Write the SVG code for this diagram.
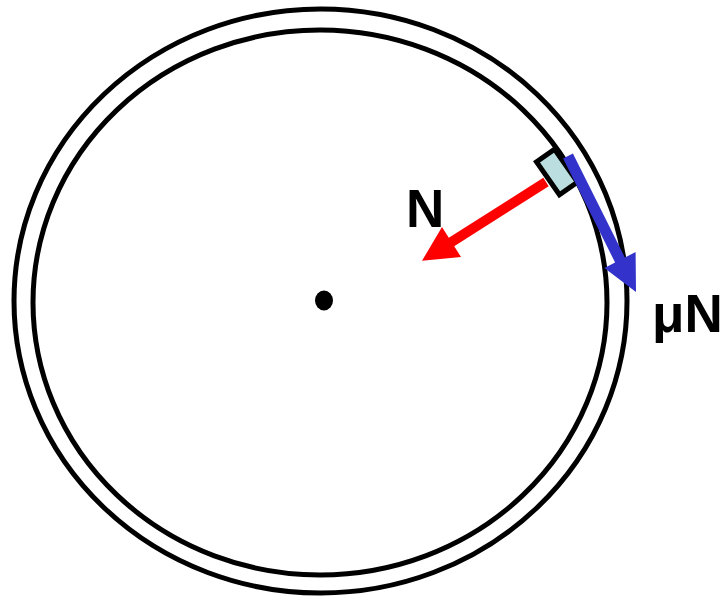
<svg xmlns="http://www.w3.org/2000/svg" width="720" height="601" viewBox="0 0 720 601">
  <style>
    .ring { fill: none; stroke: #000; stroke-width: 5; }
    .lbl { font-family: "Liberation Sans", Arial, sans-serif; font-weight: bold; font-size: 53px; fill: #000; }
  </style>
  <rect width="720" height="601" fill="#fff"/>
  <g id="wheel">
    <ellipse class="ring" cx="320.5" cy="301" rx="306.5" ry="292"/>
    <ellipse class="ring" cx="320" cy="302.5" rx="287" ry="272.5"/>
    <ellipse cx="324" cy="300.5" rx="9" ry="10" fill="#000"/>
  </g>
  <g id="connectors">
    <polygon id="normal" fill="#ff0000" points="543.3,177.8 448.8,237.8 442,227 422,260.8 461,257 454.2,246.2 548.7,186.2"/>
  </g>
  <g id="block">
    <rect transform="translate(557,172) rotate(-35)" x="-11" y="-20" width="22" height="40" fill="#bbdfe0" stroke="#000" stroke-width="5"/>
  </g>
  <g id="friction">
    <polygon fill="#3333cc" points="563.1,158.5 615.1,262.5 604.4,267.9 636,292 635.6,252.1 624.9,257.5 572.9,153.5"/>
  </g>
  <g id="labels">
    <text class="lbl" x="406" y="227">N</text>
    <text class="lbl" x="652" y="332">μN</text>
  </g>
</svg>
